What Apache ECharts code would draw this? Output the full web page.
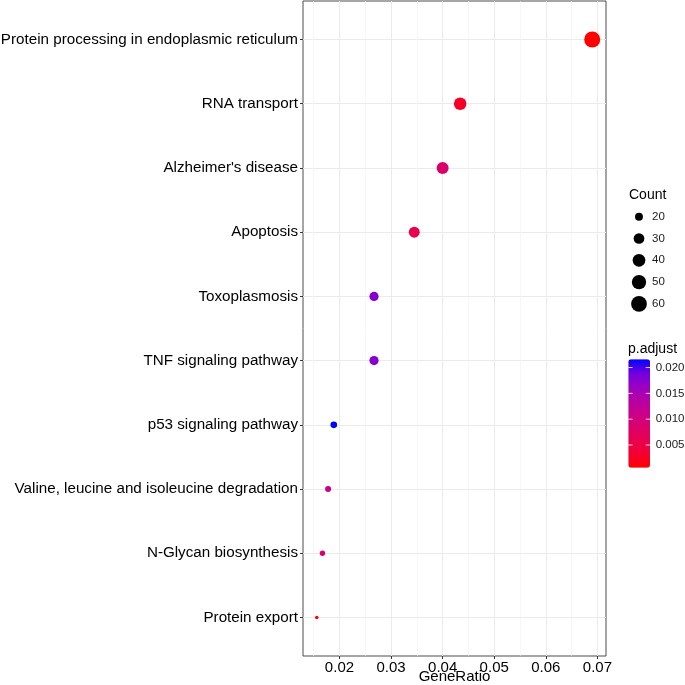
<!DOCTYPE html>
<html>
<head>
<meta charset="utf-8">
<script src="https://cdn.jsdelivr.net/npm/echarts@6/dist/echarts.min.js"></script>
<style>html,body{margin:0;padding:0;background:#fff}#c{width:685px;height:685px}</style>
</head>
<body>
<div id="c"></div>
<script>
const categories = ["Protein processing in endoplasmic reticulum","RNA transport","Alzheimer's disease","Apoptosis","Toxoplasmosis","TNF signaling pathway","p53 signaling pathway","Valine, leucine and isoleucine degradation","N-Glycan biosynthesis","Protein export"];
const geneRatio = [0.0690,0.0434,0.0400,0.0345,0.0267,0.0267,0.0189,0.0178,0.0167,0.0156];
const counts = [62,39,36,31,24,24,17,16,15,14];
const pAdjust = [0.0006,0.0027,0.0086,0.0058,0.0176,0.0176,0.0216,0.0111,0.0094,0.0010];
const xTicks = [0.02,0.03,0.04,0.05,0.06,0.07];
const xMinorTicks = [0.015,0.025,0.035,0.045,0.055,0.065];
const sizeBreaks = [20,30,40,50,60];
const pBreaks = [0.005,0.010,0.015,0.020];

const FONT = 'Liberation Sans, Arial, sans-serif';
const xMinD = Math.min(...geneRatio), xMaxD = Math.max(...geneRatio);
const xPad = (xMaxD - xMinD) * 0.05;
const cMin = Math.min(...counts), cMax = Math.max(...counts);
const pMin = Math.min(...pAdjust), pMax = Math.max(...pAdjust);
function diam(c){ const s = 1 + 5*Math.sqrt((c - cMin)/(cMax - cMin)); return 2.5*s + 1; }
const gradColors = ['#FF0000','#F40031','#E8004F','#DA006C','#CA0089','#B500A5','#9A00C3','#7000DE','#0000FF'];

const data = categories.map((c,i)=>[geneRatio[i], i, pAdjust[i], counts[i]]);

const sizeLeg = {titleX:629, titleY:196.5, cx:639, y0:216.7, dy:21.8, labelX:652};
const bar = {left:628.3, top:359.3, width:21.7, height:108.4, labelX:655.7, titleX:628, titleY:350};

const graphics = [];
graphics.push({type:'text', left:sizeLeg.titleX, top:sizeLeg.titleY-8, style:{text:'Count', font:'14px '+FONT, fill:'#000'}});
sizeBreaks.forEach((b,i)=>{
  const y = sizeLeg.y0 + i*sizeLeg.dy;
  graphics.push({type:'circle', shape:{cx:sizeLeg.cx, cy:y, r:diam(b)/2}, style:{fill:'#000'}});
  graphics.push({type:'text', x:sizeLeg.labelX, y:y, style:{text:String(b), font:'11.5px '+FONT, fill:'#1a1a1a', verticalAlign:'middle'}});
});
graphics.push({type:'text', left:bar.titleX, top:bar.titleY-8, style:{text:'p.adjust', font:'14px '+FONT, fill:'#000'}});
pBreaks.forEach(b=>{
  const y = bar.top + (pMax - b)/(pMax - pMin)*bar.height;
  graphics.push({type:'line', z:100, shape:{x1:bar.left, y1:y, x2:bar.left+4.3, y2:y}, style:{stroke:'rgba(255,255,255,0.8)', lineWidth:1}});
  graphics.push({type:'line', z:100, shape:{x1:bar.left+bar.width-4.3, y1:y, x2:bar.left+bar.width, y2:y}, style:{stroke:'rgba(255,255,255,0.8)', lineWidth:1}});
  graphics.push({type:'text', x:bar.labelX, y:y, style:{text:b.toFixed(3), font:'11.5px '+FONT, fill:'#1a1a1a', verticalAlign:'middle'}});
});

const chart = echarts.init(document.getElementById('c'), null, {renderer:'canvas'});
chart.setOption({
  animation:false,
  backgroundColor:'#fff',
  textStyle:{fontFamily:FONT},
  grid:{left:303, right:79, top:1, bottom:29, show:true, borderColor:'#4d4d4d', borderWidth:1, backgroundColor:'transparent', containLabel:false, outerBoundsMode:'none'},
  xAxis:[{
    type:'value', min:xMinD - xPad, max:xMaxD + xPad, position:'bottom',
    axisLine:{show:false, onZero:false},
    axisTick:{show:true, length:3, lineStyle:{color:'#333'}, customValues:xTicks},
    axisLabel:{customValues:xTicks, formatter:v=>v.toFixed(2), fontSize:15, color:'#000', margin:4, fontFamily:FONT},
    splitLine:{show:true, lineStyle:{color:'#EBEBEB', width:1}},
    name:'GeneRatio', nameLocation:'middle', nameGap:13, nameMoveOverlap:false, nameTextStyle:{fontSize:15, color:'#000', fontFamily:FONT}
  },{
    type:'value', min:xMinD - xPad, max:xMaxD + xPad, position:'top',
    axisLine:{show:false, onZero:false}, axisLabel:{show:false},
    axisTick:{show:false, customValues:xMinorTicks},
    splitLine:{show:true, lineStyle:{color:'#F2F2F2', width:0.6}}
  }],
  yAxis:{
    type:'value', min:-0.6, max:categories.length - 1 + 0.6, inverse:true,
    axisLine:{show:false, onZero:false},
    axisTick:{show:true, length:3, lineStyle:{color:'#333'}, customValues:categories.map((c,i)=>i)},
    axisLabel:{customValues:categories.map((c,i)=>i), formatter:v=>categories[Math.round(v)], fontSize:15.2, color:'#000', margin:5, fontFamily:FONT},
    splitLine:{show:true, lineStyle:{color:'#EBEBEB', width:1}}
  },
  visualMap:{
    type:'continuous', min:pMin, max:pMax, dimension:2, seriesIndex:0,
    orient:'vertical', left:bar.left, top:bar.top, itemWidth:bar.width, itemHeight:bar.height,
    padding:0, calculable:false, hoverLink:false, text:null, showLabel:false,
    inRange:{color:gradColors}
  },
  series:[{
    type:'scatter', data:data, xAxisIndex:0,
    encode:{x:0, y:1},
    symbol:'circle',
    symbolSize:(v)=>diam(v[3]),
    itemStyle:{opacity:1}
  }],
  graphic:graphics
});
</script>
</body>
</html>
